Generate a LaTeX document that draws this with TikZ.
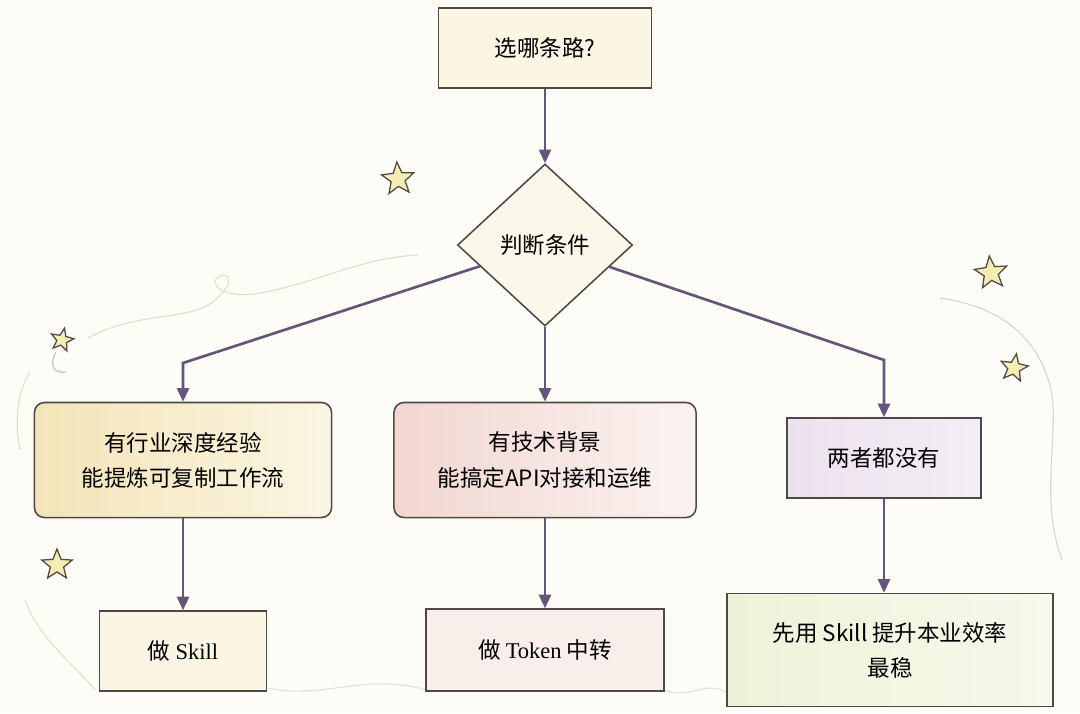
\documentclass[tikz,border=0pt]{standalone}
\usepackage{fontspec}
\setmainfont{Noto Sans CJK SC}
\newfontfamily\latinserif{Liberation Serif}
\usepackage{xcolor}
\usetikzlibrary{positioning,arrows.meta,shapes.geometric}
\definecolor{pathpaper}{HTML}{FDFCF7}
\definecolor{pathink}{HTML}{4E4949}
\definecolor{pathflow}{HTML}{65557A}
\definecolor{pathcream}{HTML}{FBF6E3}
\definecolor{pathsand}{HTML}{F4E4B8}
\definecolor{pathrose}{HTML}{F2D6D0}
\definecolor{pathlilac}{HTML}{ECE2EE}
\definecolor{pathblush}{HTML}{F9EEEA}
\definecolor{pathmint}{HTML}{EDF3D8}
\definecolor{pathstar}{HTML}{F5EDB2}
\definecolor{pathswirl}{HTML}{D8DAB8}

\begin{document}
\begin{tikzpicture}[
  x=0.025cm, y=-0.025cm,
  font=\fontsize{16}{25}\selectfont,
  card/.style={draw=pathink, line width=1.1pt, align=center, inner sep=2pt},
  softcard/.style={card, rounded corners=0.25cm},
  choice/.style={draw=pathink, line width=1.1pt, diamond, aspect=1.08,
    minimum width=4.375cm, minimum height=4.05cm, inner sep=0pt, fill=pathcream!80!white},
  flow/.style={draw=pathflow, line width=1.9pt,
    -{Triangle[length=3.4mm,width=3mm]}},
  sparkle/.style={star, star points=5, star point ratio=2.3, draw=pathink,
    line width=0.9pt, fill=pathstar, inner sep=0pt},
  swirl/.style={draw=pathswirl, line width=0.8pt, opacity=0.8},
  ]
  \useasboundingbox[fill=pathpaper] (0,0) rectangle (1080,713);

  % faint background swirls
  \draw[swirl] (88,338) .. controls (140,310) and (190,322) .. (215,300)
    .. controls (235,283) and (230,272) .. (220,276)
    .. controls (205,283) and (225,300) .. (260,293)
    .. controls (320,282) and (360,258) .. (418,255);
  \draw[swirl, draw=gray!60] (56,352) .. controls (48,366) and (55,374) .. (66,372);
  \draw[swirl, draw=gray!40] (940,298) .. controls (990,305) and (1040,330) .. (1052,395)
    .. controls (1058,440) and (1040,500) .. (1062,560);
  \draw[swirl] (30,372) .. controls (18,390) and (14,420) .. (20,450);
  \draw[swirl] (25,600) .. controls (40,640) and (70,660) .. (95,690);
  \draw[swirl, draw=gray!30] (268,688) .. controls (320,700) and (370,672) .. (425,690);
  \draw[swirl, draw=gray!30] (664,690) .. controls (690,700) and (705,680) .. (726,692);

  % stars
  \node[sparkle, minimum size=0.85cm, rotate=4] (star1) at (398,179) {};
  \node[sparkle, minimum size=0.6cm, rotate=-12] (star2) at (62,340) {};
  \node[sparkle, minimum size=0.85cm, rotate=6] (star3) at (991,273) {};
  \node[sparkle, minimum size=0.72cm, rotate=-10] (star4) at (1014,368) {};
  \node[sparkle, minimum size=0.8cm] (star5) at (57,565) {};

  % question and decision
  \node[card, fill=pathcream, minimum width=5.325cm, minimum height=2cm] (ask) at (545,48) {选哪条路?};
  \node[choice] (judge) at (545,245) {判断条件};

  % three routes
  \node[softcard, left color=pathsand, right color=pathcream, minimum width=7.425cm,
    minimum height=2.875cm] (domain) at (183,460) {有行业深度经验\\能提炼可复制工作流};
  \node[softcard, left color=pathrose, right color=pathblush!70!white, minimum width=7.55cm,
    minimum height=2.875cm] (tech) at (545,460) {有技术背景\\能搞定API对接和运维};
  \node[card, left color=pathlilac, right color=pathlilac!60!white, minimum width=4.85cm,
    minimum height=2cm] (neither) at (884,458) {两者都没有};

  % outcomes
  \node[card, fill=pathcream, minimum width=4.175cm, minimum height=2cm,
    below=2.3cm of domain] (skill) {做 {\latinserif Skill}};
  \node[card, fill=pathblush, minimum width=5.95cm, minimum height=2.05cm,
    below=2.25cm of tech] (token) {做 {\latinserif Token} 中转};
  \node[card, left color=pathmint, right color=pathmint!50!white, minimum width=8.15cm,
    minimum height=2.825cm] (safe) at (890,650) {先用 Skill 提升本业效率\\最稳};

  \coordinate (kneeL) at (183,363);
  \coordinate (kneeR) at (884,360);

  \draw[flow] (ask) -- (judge);
  \draw[flow] (judge) -- (kneeL) -- (domain.north);
  \draw[flow] (judge) -- (tech);
  \draw[flow] (judge) -- (kneeR) -- (neither.north);
  \draw[flow] (domain) -- (skill);
  \draw[flow] (tech) -- (token);
  \draw[flow] (neither) -- (neither |- safe.north);
\end{tikzpicture}
\end{document}
